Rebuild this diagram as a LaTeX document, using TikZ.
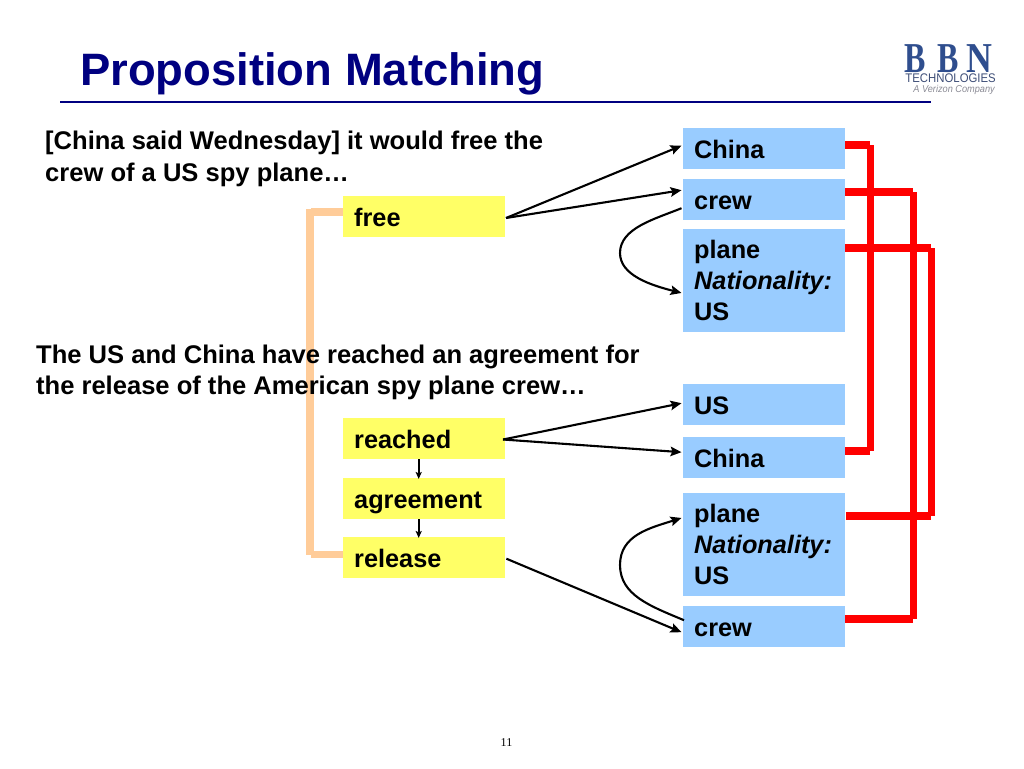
\documentclass[tikz,border=0pt]{standalone}
\usepackage{fontspec}
\setmainfont{Liberation Sans}
\newfontfamily\logoserif{Liberation Serif}
\usetikzlibrary{arrows.meta}
\definecolor{navytitle}{HTML}{000080}
\definecolor{boxblue}{HTML}{99CCFF}
\definecolor{boxyellow}{HTML}{FFFF66}
\definecolor{linkorange}{HTML}{FFCC99}
\definecolor{logoblue}{HTML}{2F4E8E}
\definecolor{logotech}{HTML}{3F4F78}
\definecolor{logogray}{HTML}{8C8C96}
\tikzset{
  x=1pt,y=-1pt,
  boxbase/.style={anchor=north west,inner xsep=11pt,inner ysep=0pt,minimum width=162pt,text width=140pt,align=left,font=\fontsize{25.3}{31}\bfseries\selectfont,text=black},
  single/.style={boxbase,text height=30.5pt,text depth=10.5pt},
  triple/.style={boxbase,minimum height=102.5pt},
  bluebox/.style={fill=boxblue},
  yellowbox/.style={fill=boxyellow},
  para/.style={anchor=north west,inner sep=0pt,align=left,font=\fontsize{25.55}{31.5}\bfseries\selectfont,text=black},
  arrowlink/.style={draw=black,line width=2.1pt,-{Stealth[length=11pt,width=9.5pt,inset=2pt]}},
  smallarrow/.style={draw=black,line width=1.7pt,-{Stealth[length=7pt,width=6pt,inset=1.5pt]}},
  curvelink/.style={arrowlink},
  redlink/.style={draw=red,line width=7.5pt},
  orangelink/.style={draw=linkorange,line width=7.5pt},
}
\begin{document}
\begin{tikzpicture}
\useasboundingbox (0,0) rectangle (1024,768);
\fill[white] (0,0) rectangle (1024,768);

% title and logo
\node[anchor=base west,inner sep=0pt,text=navytitle,font=\fontsize{45.4}{50}\bfseries\selectfont] (title) at (80,85) {Proposition Matching};
\coordinate (ruleL) at (60,102);
\coordinate (ruleR) at (931,102);
\draw[navytitle,line width=1.5pt] (ruleL) -- (ruleR);
\node[anchor=base west,inner sep=0pt,text=logoblue,font=\logoserif\bfseries\fontsize{32}{32}\selectfont,yscale=1.33] (logoA) at (904.5,72) {B\hspace{11pt}B\hspace{8pt}\scalebox{1.12}[1]{N}};
\node[anchor=base east,inner sep=0pt,text=logotech,font=\fontsize{12.5}{13}\selectfont,xscale=0.91] (logoB) at (996,82.5) {TECHNOLOGIES};
\node[anchor=base east,inner sep=0pt,text=logogray,font=\fontsize{10}{11}\itshape\selectfont,xscale=0.92] (logoC) at (995,92) {A Verizon Company};

% yellow boxes
\node[single,yellowbox] (free) at (343,196) {free};
\node[single,yellowbox] (reached) at (343,418) {reached};
\node[single,yellowbox] (agreement) at (343,478) {agreement};
\node[single,yellowbox] (release) at (343,537) {release};

% blue boxes
\node[single,bluebox] (chinaA) at (683,128) {China};
\node[single,bluebox] (crewA) at (683,179) {crew};
\node[triple,bluebox] (planeA) at (683,229) {plane\\\textit{Nationality:}\\US};
\node[single,bluebox] (usB) at (683,384) {US};
\node[single,bluebox] (chinaB) at (683,437) {China};
\node[triple,bluebox] (planeB) at (683,493) {plane\\\textit{Nationality:}\\US};
\node[single,bluebox] (crewB) at (683,606) {crew};

% orange connector
\coordinate (orangeTop) at (311,212);
\coordinate (orangeBot) at (311,554.5);
\draw[orangelink] (free.west |- orangeTop) -- (orangeTop);
\draw[orangelink] ([xshift=-1pt,yshift=3pt]orangeTop) -- ([xshift=-1pt]orangeBot);
\draw[orangelink] (orangeBot) -- (release.west |- orangeBot);

% texts (over the orange connector)
\node[para] (text1) at (45,130.8) {[China said Wednesday] it would free the\\crew of a US spy plane…};
\node[para] (text2) at (36,344.3) {The US and China have reached an agreement for\\the release of the American spy plane crew…};

% red connectors
\coordinate (r1t) at (870,145);
\coordinate (r1b) at (870,451);
\coordinate (r2t) at (913,192);
\coordinate (r2b) at (913,619);
\coordinate (r3t) at (931,248);
\coordinate (r3b) at (931,516);
\draw[redlink] (chinaA.east |- r1t) -- (r1t);
\draw[redlink] ([xshift=0.5pt]r1t) -- ([xshift=0.5pt]r1b);
\draw[redlink] (chinaB.east |- r1b) -- (r1b);
\draw[redlink] (crewA.east |- r2t) -- (r2t);
\draw[redlink] ([xshift=0.5pt]r2t) -- ([xshift=0.5pt]r2b);
\draw[redlink] (crewB.east |- r2b) -- (r2b);
\draw[redlink] (planeA.east |- r3t) -- (r3t);
\draw[redlink] ([xshift=0.5pt]r3t) -- ([xshift=0.5pt]r3b);
\draw[redlink] ([xshift=1pt]planeB.east |- r3b) -- (r3b);

% black arrows
\coordinate (freeOut) at (506,218);
\coordinate (reachedOut) at (503,439.5);
\draw[arrowlink] (freeOut) -- ([yshift=3pt,xshift=-1.5pt]chinaA.west);
\draw[arrowlink] (freeOut) -- ([yshift=9.5pt,xshift=-1.5pt]crewA.west);
\draw[arrowlink] (reachedOut) -- ([yshift=1.5pt,xshift=-1.5pt]usB.west);
\draw[arrowlink] (reachedOut) -- ([yshift=5.5pt,xshift=-1.5pt]chinaB.west);
\draw[arrowlink] ([yshift=-1pt,xshift=1pt]release.east) -- ([yshift=-5.5pt,xshift=-1.5pt]crewB.west);
\draw[curvelink] ([yshift=-8.5pt,xshift=-1.5pt]crewA.west) .. controls (655,219) and (620,228) .. (620,253) .. controls (620,275) and (650,285) .. ([yshift=-12.5pt,xshift=-1.5pt]planeA.west);
\draw[curvelink] ([yshift=6.5pt,xshift=1pt]crewB.west) .. controls (650,606) and (620,595) .. (620,565) .. controls (620,535) and (650,528) .. ([yshift=26.5pt,xshift=-1.5pt]planeB.west);
\draw[smallarrow] ([xshift=-5.5pt]reached.south) -- ([xshift=-5.5pt,yshift=-1pt]agreement.north);
\draw[smallarrow] ([xshift=-5.5pt]agreement.south) -- ([xshift=-5.5pt,yshift=-1pt]release.north);

% page number
\node[inner sep=0pt,font=\logoserif\fontsize{12}{12}\selectfont,text=black] (pagenum) at (506.5,742.5) {11};
\end{tikzpicture}
\end{document}
